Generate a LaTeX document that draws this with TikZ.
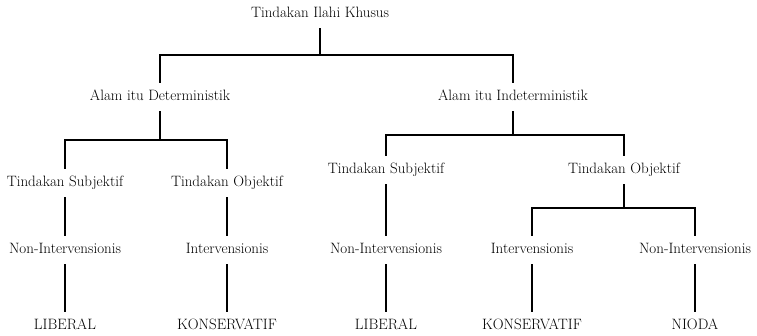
\documentclass[tikz,border=0pt]{standalone}
\usepackage{tikz}
\usetikzlibrary{positioning}

\begin{document}
\begin{tikzpicture}[x=1pt,y=-1pt,line width=1.3pt,
  main node/.style={font=\fontsize{15}{17}\selectfont,inner ysep=7pt,text height=10pt,text depth=3pt}]
  \useasboundingbox (0,0) rectangle (757,336);

  \node[main node] (Root) at (320,14){Tindakan Ilahi Khusus};
  \node[main node] (Det) at (160,97){Alam itu Deterministik};
  \node[main node] (Indet) at (513,97){Alam itu Indeterministik};

  \node[main node] (SubjL) at (65,183){Tindakan Subjektif};
  \node[main node] (ObjL) at (227,183){Tindakan Objektif};
  \node[main node] (SubjR) at (386,170){Tindakan Subjektif};
  \node[main node] (ObjR) at (624,170){Tindakan Objektif};

  \node[main node] (NonL) at (65,250){Non-Intervensionis};
  \node[main node] (IntL) at (227,250){Intervensionis};
  \node[main node] (NonM) at (386,250){Non-Intervensionis};
  \node[main node] (IntR) at (532,250){Intervensionis};
  \node[main node] (NonR) at (695,250){Non-Intervensionis};

  \node[main node] (LibL) at (65,326){LIBERAL};
  \node[main node] (KonL) at (227,326){KONSERVATIF};
  \node[main node] (LibM) at (386,326){LIBERAL};
  \node[main node] (KonR) at (532,326){KONSERVATIF};
  \node[main node] (Nioda) at (695,326){NIODA};

  \coordinate (b0) at (320,55);
  \coordinate (b1) at (160,140);
  \coordinate (b2) at (513,135);
  \coordinate (b3) at (624,208);

  \draw (Root) -- (b0);
  \draw (Det) |- (b0) -| (Indet);
  \draw (Det) -- (b1);
  \draw (SubjL) |- (b1) -| (ObjL);
  \draw (Indet) -- (b2);
  \draw (SubjR) |- (b2) -| (ObjR);
  \draw (ObjR) -- (b3);
  \draw (IntR) |- (b3) -| (NonR);

  \path
	(SubjL) edge (NonL)
	(NonL) edge (LibL)
	(ObjL) edge (IntL)
	(IntL) edge (KonL)
	(SubjR) edge (NonM)
	(NonM) edge (LibM)
	(IntR) edge (KonR)
	(NonR) edge (Nioda)
	;

\end{tikzpicture}
\end{document}
